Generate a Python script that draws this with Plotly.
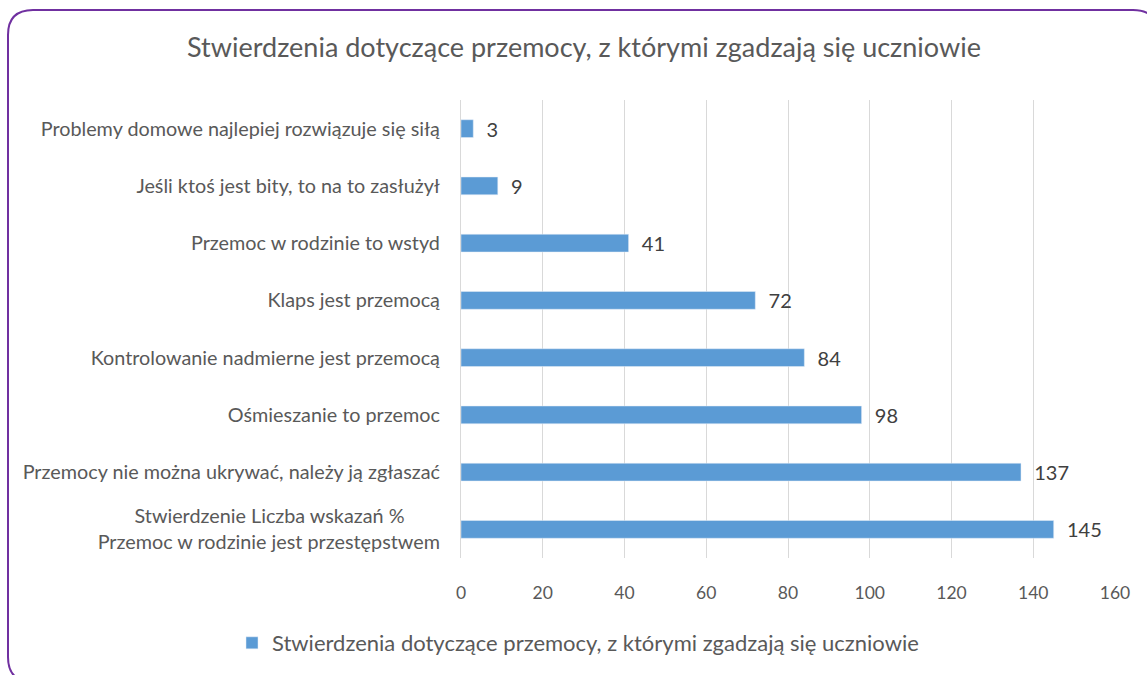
import plotly.graph_objects as go

NB = "\u00a0"
categories = [
    "Problemy domowe najlepiej rozwiązuje się siłą",
    "Jeśli ktoś jest bity, to na to zasłużył",
    "Przemoc w rodzinie to wstyd",
    "Klaps jest przemocą",
    "Kontrolowanie nadmierne jest przemocą",
    "Ośmieszanie to przemoc",
    "Przemocy nie można ukrywać, należy ją zgłaszać",
    "Stwierdzenie Liczba wskazań %" + NB * 7 + "<br>Przemoc w rodzinie jest przestępstwem",
]
values = [3, 9, 41, 72, 84, 98, 137, 145]
series_name = "Stwierdzenia dotyczące przemocy, z którymi zgadzają się uczniowie"
title_text = "Stwierdzenia dotyczące przemocy, z którymi zgadzają się uczniowie"

W, H = 1147, 675
L, R, T, B = 461, 32, 100, 117
pw, ph = W - L - R, H - T - B

FONT = "Lato, 'Open Sans', sans-serif"
GREY = "#595959"

fig = go.Figure()
fig.add_trace(go.Bar(
    y=categories, x=values, orientation="h",
    marker=dict(color="#5B9BD5"),
    width=0.31,
    text=[NB * 2 + str(v) for v in values], textposition="outside",
    textfont=dict(size=20, color="#404040", family=FONT),
    constraintext="none",
    cliponaxis=False,
    name=series_name, showlegend=True,
))

def P(x, y):
    a, b = (x - L) / pw, (H - B - y) / ph
    return f"{a:.5f},{b:.5f}"

# rounded purple border
x0, y0, x1, y1, r = 8, 10, 1158, 682, 25
path = (f"M {P(x0 + r, y0)} L {P(x1 - r, y0)} Q {P(x1, y0)} {P(x1, y0 + r)} "
        f"L {P(x1, y1 - r)} Q {P(x1, y1)} {P(x1 - r, y1)} "
        f"L {P(x0 + r, y1)} Q {P(x0, y1)} {P(x0, y1 - r)} "
        f"L {P(x0, y0 + r)} Q {P(x0, y0)} {P(x0 + r, y0)} Z")

fig.update_layout(
    width=W, height=H,
    margin=dict(l=L, r=R, t=T, b=B, autoexpand=False),
    paper_bgcolor="white", plot_bgcolor="white",
    font=dict(family=FONT, color=GREY, size=16),
    title=dict(text=title_text, x=584 / W, xref="container", xanchor="center",
               y=1 - 48 / H, yref="container", yanchor="middle",
               font=dict(size=27, color=GREY, family=FONT)),
    xaxis=dict(range=[0, 160], dtick=20, showgrid=True, gridcolor="#D9D9D9",
               gridwidth=1.2, zeroline=False, showline=False,
               tickfont=dict(size=17.5, color=GREY), ticks="", ticklabelstandoff=22),
    yaxis=dict(autorange="reversed", showgrid=False, showline=True,
               linecolor="#D9D9D9", linewidth=1.2, ticks="",
               tickfont=dict(size=19.8, color=GREY), ticklabelstandoff=16),
    legend=dict(orientation="h", x=(232 - L) / pw, xanchor="left",
                y=(H - B - 643) / ph, yanchor="middle",
                font=dict(size=22, color=GREY), itemwidth=30),
    shapes=[dict(type="path", xref="paper", yref="paper", path=path,
                 line=dict(color="#7030A0", width=2), layer="above")],
)

fig.write_html("out.html", config={"displayModeBar": False},
               post_script="document.body.style.margin='0px';")
